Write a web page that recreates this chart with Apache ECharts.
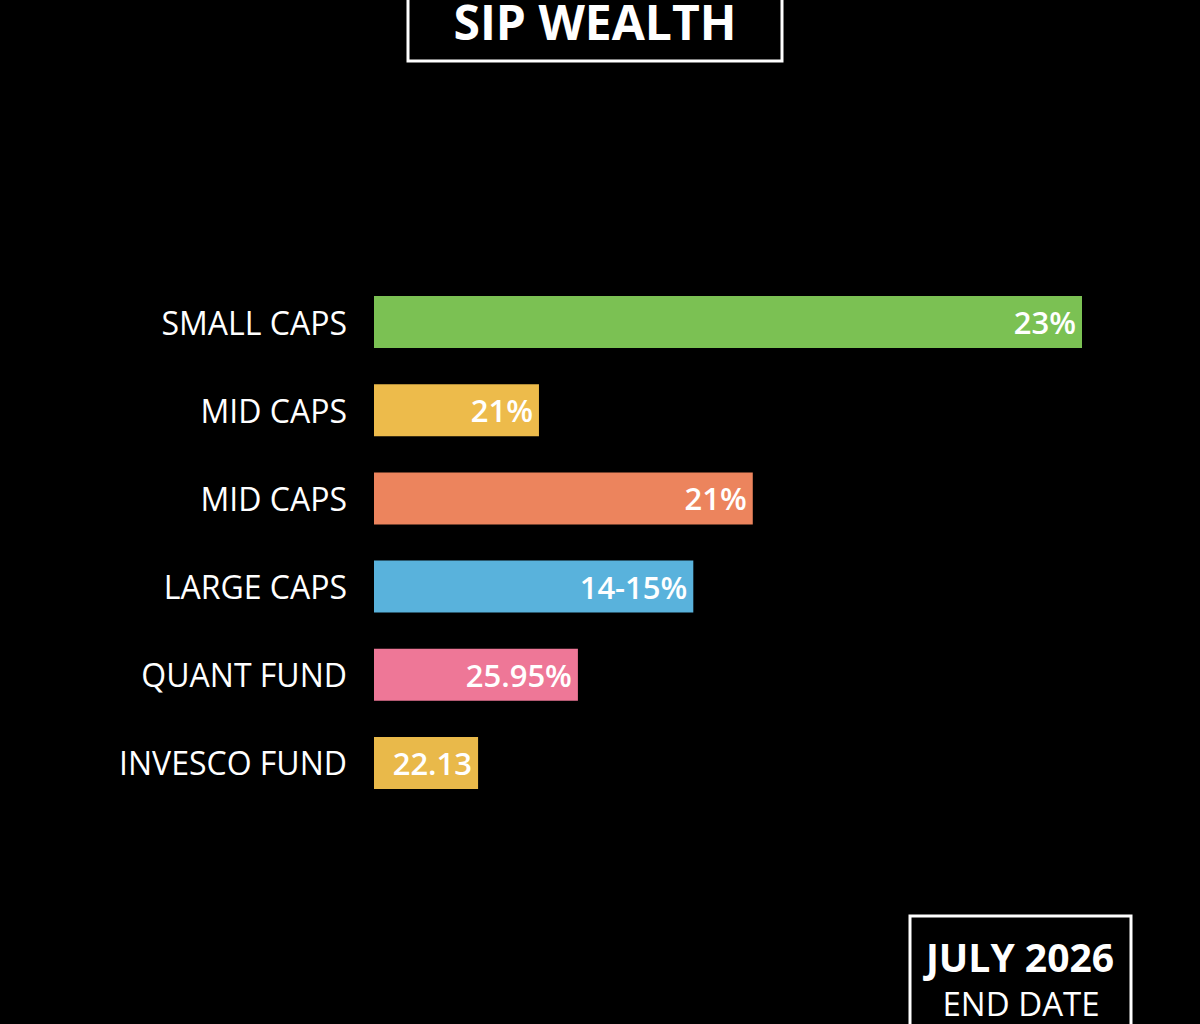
<!DOCTYPE html>
<html>
<head>
<meta charset="utf-8">
<title>SIP Wealth</title>
<script src="https://cdn.jsdelivr.net/npm/echarts@6/dist/echarts.min.js"></script>
<style>
  html, body { margin: 0; padding: 0; background: #000; }
  #chart { width: 1200px; height: 1024px; }
</style>
</head>
<body>
<div id="chart"></div>
<script>
// categories, top to bottom
const categories = ['SMALL CAPS', 'MID CAPS', 'MID CAPS ', 'LARGE CAPS', 'QUANT FUND', 'INVESCO FUND'];
// bar lengths as drawn (relative, longest = 100)
const barLengths = [100, 23.3, 53.5, 45.1, 28.8, 14.7];
// texts printed inside the bars
const barTexts = ['23%', '21%', '21%', '14-15%', '25.95%', '22.13'];
const barColors = ['#7BC153', '#EDBB4B', '#EC845D', '#59B2DC', '#EE7797', '#E9B94A'];

const font = '"Open Sans", "Noto Sans", sans-serif';

const chart = echarts.init(document.getElementById('chart'), null, { renderer: 'svg' });

const option = {
    backgroundColor: '#000',
    animation: false,
    grid: { left: 374, right: 118, top: 278, bottom: 217, containLabel: false },
    xAxis: {
        type: 'value',
        min: 0,
        max: 100,
        show: false
    },
    yAxis: {
        type: 'category',
        inverse: true,
        data: categories,
        axisLine: { show: false },
        axisTick: { show: false },
        splitLine: { show: false },
        axisLabel: {
            color: '#fff',
            fontFamily: font,
            fontSize: 32,
            margin: 27,
            formatter: v => v.trim()
        }
    },
    series: [{
        type: 'bar',
        barWidth: 52,
        data: barLengths.map((v, i) => ({
            value: v,
            itemStyle: { color: barColors[i] }
        })),
        label: {
            show: true,
            position: 'insideRight',
            distance: 6,
            color: '#fff',
            fontFamily: font,
            fontSize: 31,
            fontWeight: 600,
            formatter: p => barTexts[p.dataIndex]
        }
    }],
    graphic: [
        {
            type: 'rect',
            shape: { x: 408, y: -10, width: 374, height: 71 },
            style: { fill: 'none', stroke: '#fff', lineWidth: 3 }
        },
        {
            type: 'text',
            x: 595, y: 1,
            style: {
                text: 'SIP WEALTH',
                fill: '#fff',
                font: 'bold 48px ' + font,
                lineHeight: 40,
                textAlign: 'center',
                textVerticalAlign: 'top'
            }
        },
        {
            type: 'rect',
            shape: { x: 910, y: 916, width: 221, height: 130 },
            style: { fill: 'none', stroke: '#fff', lineWidth: 3 }
        },
        {
            type: 'text',
            x: 1020, y: 956,
            style: {
                text: 'JULY 2026',
                fill: '#fff',
                font: 'bold 39px ' + font,
                textAlign: 'center',
                textVerticalAlign: 'middle'
            }
        },
        {
            type: 'text',
            x: 1021, y: 1003,
            style: {
                text: 'END DATE',
                fill: '#fff',
                font: '33px ' + font,
                textAlign: 'center',
                textVerticalAlign: 'middle'
            }
        }
    ]
};

chart.setOption(option);
</script>
</body>
</html>
